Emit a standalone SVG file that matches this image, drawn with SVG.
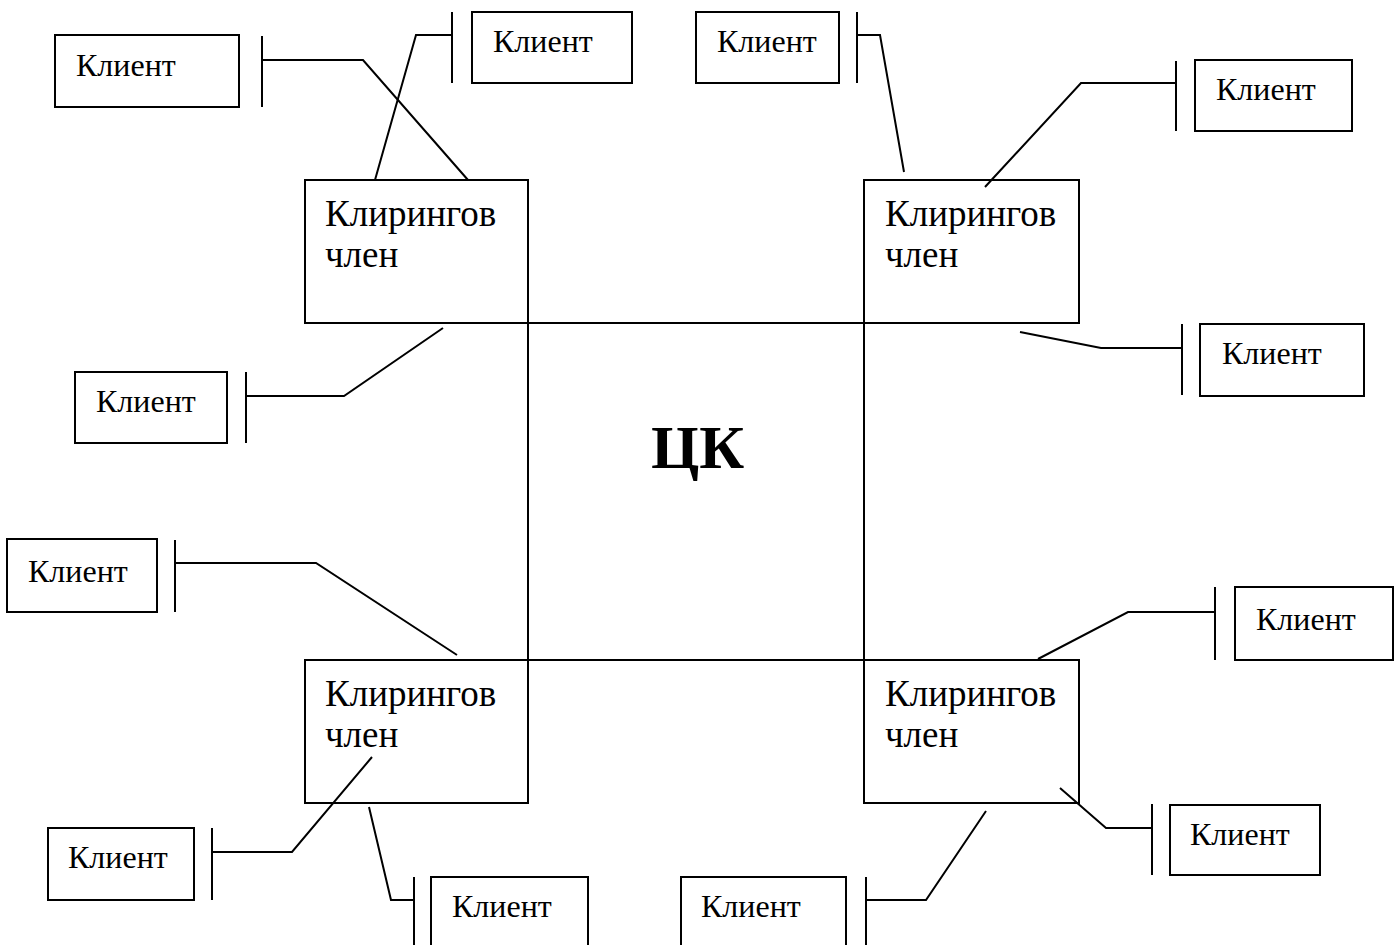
<svg xmlns="http://www.w3.org/2000/svg" width="1397" height="945" viewBox="0 0 1397 945">
<style>
.box{fill:none;stroke:#000;stroke-width:2}
.ln{fill:none;stroke:#000;stroke-width:2}
.cm{font-family:"Liberation Serif","Times New Roman",serif;font-size:37px;fill:#000}
.cl{font-family:"Liberation Serif","Times New Roman",serif;font-size:32px;fill:#000}
.ck{font-family:"Liberation Serif","Times New Roman",serif;font-size:62px;font-weight:bold;fill:#000}
</style>
<rect width="1397" height="945" fill="#fff"/>
<g id="ck">
<rect class="box" x="528" y="323" width="336" height="337"/>
<text class="ck" x="651" y="468">ЦК</text>
</g>
<g id="cm1"><rect class="box" x="305" y="180" width="223" height="143"/><text class="cm" x="325" y="226">Клирингов</text><text class="cm" x="325" y="267">член</text></g>
<g id="cm2"><rect class="box" x="864" y="180" width="215" height="143"/><text class="cm" x="885" y="226">Клирингов</text><text class="cm" x="885" y="267">член</text></g>
<g id="cm3"><rect class="box" x="305" y="660" width="223" height="143"/><text class="cm" x="325" y="706">Клирингов</text><text class="cm" x="325" y="747">член</text></g>
<g id="cm4"><rect class="box" x="864" y="660" width="215" height="143"/><text class="cm" x="885" y="706">Клирингов</text><text class="cm" x="885" y="747">член</text></g>
<g id="c1"><rect class="box" x="55" y="35" width="184" height="72"/><text class="cl" x="76" y="76">Клиент</text></g>
<g id="c2"><rect class="box" x="472" y="12" width="160" height="71"/><text class="cl" x="493" y="52">Клиент</text></g>
<g id="c3"><rect class="box" x="696" y="12" width="143" height="71"/><text class="cl" x="717" y="52">Клиент</text></g>
<g id="c4"><rect class="box" x="1195" y="60" width="157" height="71"/><text class="cl" x="1216" y="100">Клиент</text></g>
<g id="c5"><rect class="box" x="75" y="372" width="152" height="71"/><text class="cl" x="96" y="412">Клиент</text></g>
<g id="c6"><rect class="box" x="1200" y="324" width="164" height="72"/><text class="cl" x="1222" y="364">Клиент</text></g>
<g id="c7"><rect class="box" x="7" y="539" width="150" height="73"/><text class="cl" x="28" y="582">Клиент</text></g>
<g id="c8"><rect class="box" x="1235" y="587" width="158" height="73"/><text class="cl" x="1256" y="630">Клиент</text></g>
<g id="c9"><rect class="box" x="48" y="828" width="146" height="72"/><text class="cl" x="68" y="868">Клиент</text></g>
<g id="c10"><rect class="box" x="431" y="877" width="157" height="80"/><text class="cl" x="452" y="917">Клиент</text></g>
<g id="c11"><rect class="box" x="681" y="877" width="165" height="80"/><text class="cl" x="701" y="917">Клиент</text></g>
<g id="c12"><rect class="box" x="1170" y="805" width="150" height="70"/><text class="cl" x="1190" y="845">Клиент</text></g>
<g id="connectors">
<path class="ln" d="M262 36V107M262 60H363L468 180"/>
<path class="ln" d="M452 12V83M452 35H416L375 180"/>
<path class="ln" d="M857 12V83M857 35H880L904 172"/>
<path class="ln" d="M1176 61V131M1176 83H1081L985 187"/>
<path class="ln" d="M246 372V443M246 396H344L443 328"/>
<path class="ln" d="M1182 324V395M1182 348H1101L1020 332"/>
<path class="ln" d="M175 540V612M175 563H316L457 655"/>
<path class="ln" d="M1215 587V660M1215 612H1128L1038 659"/>
<path class="ln" d="M212 828V900M212 852H292L372 757"/>
<path class="ln" d="M414 877V945M414 900H391L369 807"/>
<path class="ln" d="M866 877V945M866 900H926L986 811"/>
<path class="ln" d="M1152 804V875M1152 828H1106L1060 788"/>
</g>
</svg>
